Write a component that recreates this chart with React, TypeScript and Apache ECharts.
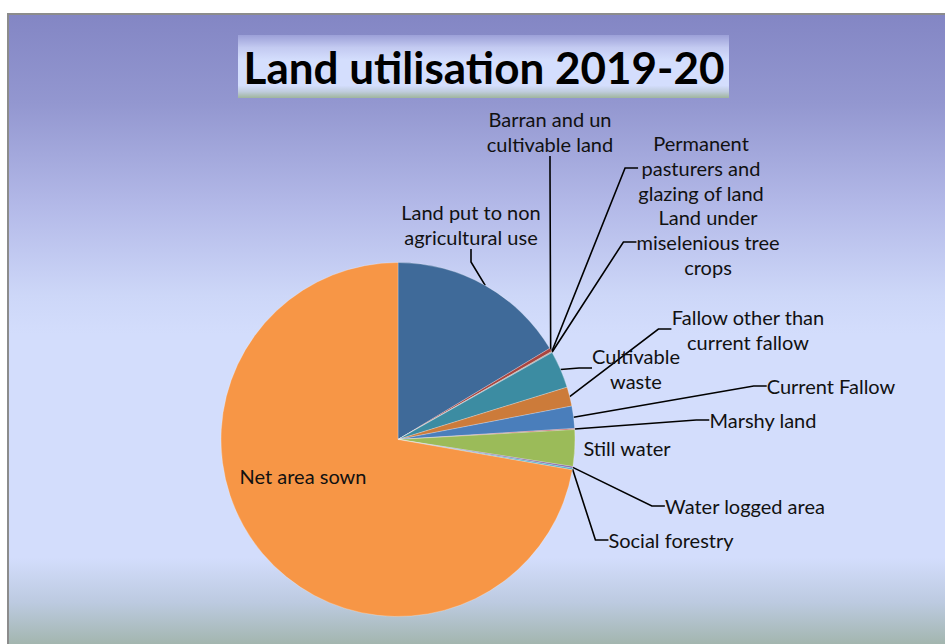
import React, { useEffect, useRef } from 'react';
import * as echarts from 'echarts';

const categories = [
  'Land put to non agricultural use',
  'Barran and un cultivable land',
  'Permanent pasturers and glazing of land',
  'Land under miselenious tree crops',
  'Cultivable waste',
  'Fallow other than current fallow',
  'Current Fallow',
  'Marshy land',
  'Still water',
  'Water logged area',
  'Social forestry',
  'Net area sown',
];
const labelTexts = [
  'Land put to non\nagricultural use',
  'Barran and un\ncultivable land',
  'Permanent\npasturers and\nglazing of land',
  'Land under\nmiselenious tree\ncrops',
  'Cultivable\nwaste',
  'Fallow other than\ncurrent fallow',
  'Current Fallow',
  'Marshy land',
  'Still water',
  'Water logged area',
  'Social forestry',
  'Net area sown',
];
// share of area (%)
const shares = [16.39, 0.33, 0.05, 0.05, 3.4, 1.75, 2.03, 0.1, 3.34, 0.15, 0.15, 72.25];
const sliceColors = [
  '#3F6A99', '#A9443F', '#7E9A48', '#69528A', '#3C8CA2', '#CC7B3A',
  '#4A7EBB', '#C0504D', '#9BBB59', '#8064A2', '#4BACC6', '#F79646',
];
// label centres (layout only)
const labelPositions = [
  [471, 224], [550, 131], [701, 168], [708, 242], [636, 368], [748, 329],
  [831, 386], [763, 420], [627, 448], [745, 506], [671, 540], [303, 476],
];
const noLine = [8, 11];

const FONT = 'Lato';

export default function App() {
  const ref = useRef<HTMLDivElement>(null);
  useEffect(() => {
    if (!ref.current) return;
    const chart = echarts.init(ref.current, undefined, { renderer: 'svg' });
    const bgGrad = {
      type: 'linear', x: 0, y: 0, x2: 0, y2: 1,
      colorStops: [
        { offset: 0, color: '#8386C4' },
        { offset: 0.14, color: '#9397D0' },
        { offset: 0.3, color: '#B3B9E8' },
        { offset: 0.44, color: '#CDD7F8' },
        { offset: 0.5, color: '#D3DDFC' },
        { offset: 0.85, color: '#D3DDFC' },
        { offset: 0.92, color: '#BCCAE0' },
        { offset: 1, color: '#9DB1A3' },
      ],
    };
    const titleGrad = {
      type: 'linear', x: 0, y: 0, x2: 0, y2: 1,
      colorStops: [
        { offset: 0, color: '#9CA0D8' },
        { offset: 0.2, color: '#C3CAF1' },
        { offset: 0.4, color: '#D4DEFD' },
        { offset: 0.8, color: '#D4DEFD' },
        { offset: 0.9, color: '#BFCCDC' },
        { offset: 1, color: '#9FB59D' },
      ],
    };
    chart.setOption({
      animation: false,
      backgroundColor: '#ffffff',
      title: {
        text: 'Land utilisation 2019-20',
        left: 484,
        top: 67,
        textAlign: 'center',
        textVerticalAlign: 'middle',
        padding: 0,
        textStyle: { fontFamily: FONT, fontWeight: 'bold', fontSize: 44, color: '#000' },
        z: 10,
      },
      graphic: [
        {
          type: 'rect', z: -10, silent: true,
          shape: { x: 8, y: 14, width: 950, height: 640 },
          style: { fill: bgGrad, stroke: '#8C8C8C', lineWidth: 2 },
        },
        {
          type: 'rect', z: -5, silent: true,
          shape: { x: 238, y: 35, width: 491, height: 63 },
          style: { fill: titleGrad },
        },
      ],
      series: [
        {
          type: 'pie',
          center: [398, 439.5],
          radius: 177,
          startAngle: 90,
          clockwise: true,
          avoidLabelOverlap: false,
          itemStyle: { borderColor: 'rgba(255,255,255,0.5)', borderWidth: 0.5 },
          label: {
            show: true,
            fontFamily: FONT,
            fontSize: 20,
            lineHeight: 25,
            color: '#111',
            align: 'center',
            formatter: (p: any) => labelTexts[p.dataIndex],
          },
          labelLine: {
            show: true,
            length: 10,
            length2: 13,
            minTurnAngle: 0,
            lineStyle: { color: '#000', width: 1.6 },
          },
          labelLayout: (p: any) => {
            const pos = labelPositions[p.dataIndex];
            return { x: pos[0], y: pos[1], align: 'center', verticalAlign: 'middle' };
          },
          data: categories.map((name, i) => ({
            name,
            value: shares[i],
            itemStyle: { color: sliceColors[i] },
            labelLine: noLine.includes(i) ? { show: false } : undefined,
          })),
        },
      ],
    });
    return () => chart.dispose();
  }, []);
  return (
    <div
      ref={ref}
      style={{ position: 'absolute', left: 0, top: 0, width: 945, height: 644 }}
    />
  );
}
